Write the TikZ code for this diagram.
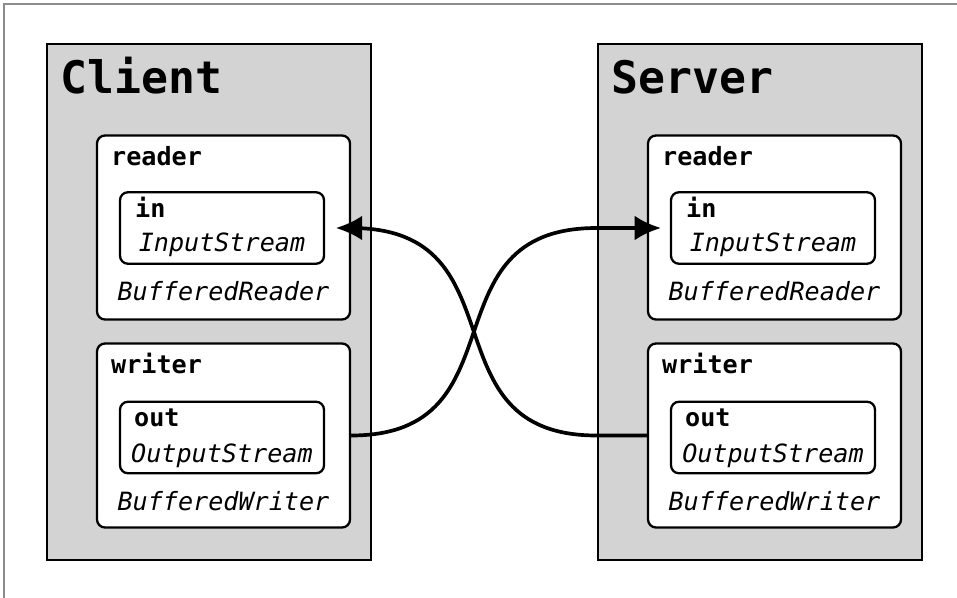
\documentclass[tikz,border=0pt]{standalone}
\usepackage{fontspec}
\setmonofont{DejaVu Sans Mono}
\usepackage{xcolor}
\definecolor{boxgray}{RGB}{211, 211, 211}
\definecolor{framegray}{RGB}{140, 140, 140}
\usepackage{tikz}
\usetikzlibrary{arrows.meta, positioning, calc}
\tikzset{
  hostbox/.style={draw=black, fill=boxgray, line width=1.6pt,
    minimum width=6.48cm, minimum height=10.32cm, inner sep=0pt},
  bufbox/.style={draw=black, fill=white, line width=1.3pt,
    rounded corners=4.5pt, minimum width=5.06cm, minimum height=3.68cm, inner sep=0pt},
  streambox/.style={draw=black, fill=white, line width=1.3pt,
    rounded corners=4.5pt, minimum width=4.08cm, minimum height=1.43cm, inner sep=0pt},
  hosttitle/.style={anchor=base west, inner sep=0pt,
    font=\ttfamily\bfseries\fontsize{25.5}{28}\selectfont},
  fieldname/.style={anchor=base west, inner sep=0pt,
    font=\ttfamily\bfseries\fontsize{14.3}{16}\selectfont},
  typename/.style={anchor=base, inner sep=0pt,
    font=\ttfamily\itshape\fontsize{14.3}{16}\selectfont},
  link/.style={-{Latex[length=15pt, width=14pt]}, line width=2.1pt}
}

\begin{document}
\begin{tikzpicture}[x=0.02cm, y=-0.02cm]

  \useasboundingbox (0,0) rectangle (957,598);
  \draw[framegray, line width=1pt] (4,598) -- (4,4) -- (957,4);

  %% Client side
  \node[hostbox] (client) at (209,302) {};
  \node[hosttitle] (clienttitle) at ($(client.north west)+(15,51)$) {Client};

  \node[bufbox] (creader) at (223.5,227.5) {};
  \node[fieldname] (creadername) at ($(creader.north west)+(15,31)$) {reader};
  \node[streambox] (cin) at (222,228) {};
  \node[fieldname] (cinname) at ($(cin.north west)+(16,26)$) {in};
  \node[typename] (cintype) at ($(cin.south)+(0,-13)$) {InputStream};
  \node[typename] (creadertype) at ($(creader.south)+(0,-20)$) {BufferedReader};

  \node[bufbox] (cwriter) at (223.5,435.5) {};
  \node[fieldname] (cwritername) at ($(cwriter.north west)+(15,31)$) {writer};
  \node[streambox] (cout) at (222,437.5) {};
  \node[fieldname] (coutname) at ($(cout.north west)+(15,26)$) {out};
  \node[typename] (couttype) at ($(cout.south)+(0,-12)$) {OutputStream};
  \node[typename] (cwritertype) at ($(cwriter.south)+(0,-18)$) {BufferedWriter};

  %% Server side
  \node[hostbox] (server) at (760,302) {};
  \node[hosttitle] (servertitle) at ($(server.north west)+(15,51)$) {Server};

  \node[bufbox] (sreader) at (774.5,227.5) {};
  \node[fieldname] (sreadername) at ($(sreader.north west)+(15,31)$) {reader};
  \node[streambox] (sin) at (773,228) {};
  \node[fieldname] (sinname) at ($(sin.north west)+(16,26)$) {in};
  \node[typename] (sintype) at ($(sin.south)+(0,-13)$) {InputStream};
  \node[typename] (sreadertype) at ($(sreader.south)+(0,-20)$) {BufferedReader};

  \node[bufbox] (swriter) at (774.5,435.5) {};
  \node[fieldname] (swritername) at ($(swriter.north west)+(15,31)$) {writer};
  \node[streambox] (sout) at (773,437.5) {};
  \node[fieldname] (soutname) at ($(sout.north west)+(15,26)$) {out};
  \node[typename] (souttype) at ($(sout.south)+(0,-12)$) {OutputStream};
  \node[typename] (swritertype) at ($(swriter.south)+(0,-18)$) {BufferedWriter};

  %% Crossed connections
  \draw[link, shorten >=5pt] (cwriter.east)
    .. controls +(174,0) and +(-174,0) .. (server.west |- sin.west) -- (sin.west);
  \draw[link, shorten >=6pt] (swriter.west) -- (server.west |- swriter.west)
    .. controls +(-174,0) and +(174,0) .. (creader.east |- cin.east) -- (cin.east);

\end{tikzpicture}
\end{document}
